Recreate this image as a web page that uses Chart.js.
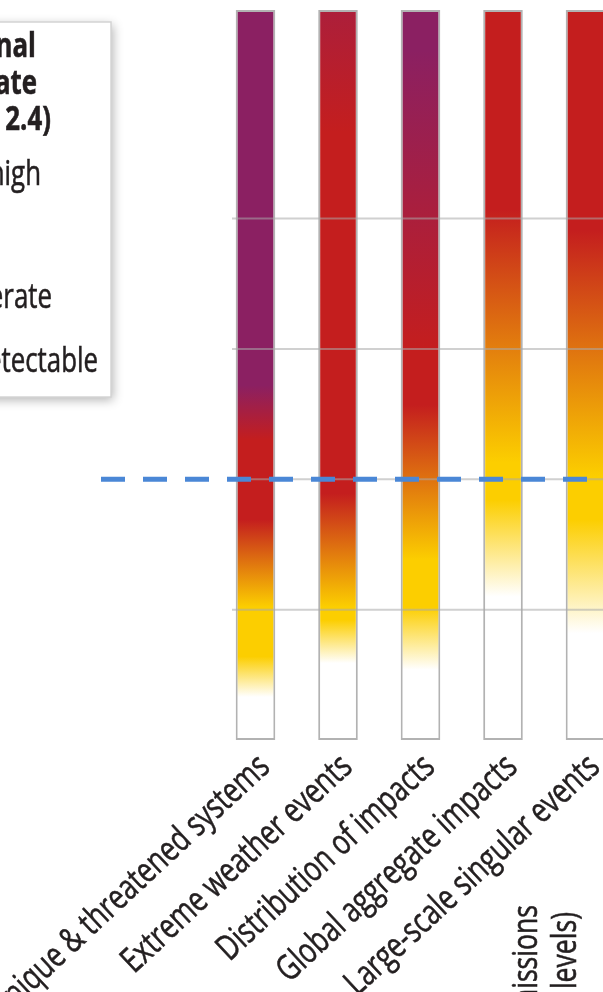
<!DOCTYPE html>
<html>
<head>
<meta charset="utf-8">
<title>Burning embers</title>
<script src="https://cdn.jsdelivr.net/npm/chart.js@4.4.1/dist/chart.umd.min.js"></script>
<style>
  html, body { margin: 0; padding: 0; background: #fff; overflow: hidden; }
  #wrap { width: 640px; height: 992px; }
</style>
</head>
<body>
<div id="wrap"><canvas id="embers" width="640" height="992"></canvas></div>
<script>
/* ── Data ── */
const categories = [
  'Unique & threatened systems',
  'Extreme weather events',
  'Distribution of impacts',
  'Global aggregate impacts',
  'Large-scale singular events',
];
const emberBase = [0, 0, 0, 0, 0];          // °C, bottom of each ember
const emberTop  = [5.6, 5.6, 5.6, 5.6, 5.6]; // °C, top of each ember
const gridTemps = [1, 2, 3, 4];
const referenceTemp = 2;                     // dashed level

// risk transitions along each ember: [°C, risk level]
const uniqueStops       = [[0.33, 'undetectable'], [0.64, 'moderate'], [1.02, 'moderate'], [1.69, 'high'], [2.30, 'high'], [2.72, 'veryHigh']];
const extremeStops      = [[0.59, 'undetectable'], [0.92, 'moderate'], [1.02, 'moderate'], [1.89, 'high'], [4.66, 'high'], [6.90, 'veryHigh']];
const distributionStops = [[0.54, 'undetectable'], [1.02, 'moderate'], [1.38, 'moderate'], [2.57, 'high'], [3.00, 'high'], [5.29, 'veryHigh']];
const aggregateStops    = [[1.10, 'undetectable'], [1.84, 'moderate'], [2.13, 'moderate'], [4.07, 'high']];
const singularStops     = [[0.82, 'undetectable'], [1.69, 'moderate'], [2.02, 'moderate'], [3.91, 'high']];
const emberStops = [uniqueStops, extremeStops, distributionStops, aggregateStops, singularStops];

const legendTitle  = ['Level of additional', 'risk due to climate', 'change (see Box 2.4)'];
const legendLevels = ['Very high', 'High', 'Moderate', 'Undetectable'];
const axisTitle    = ['Change in annual GHG emissions', 'in 2050 (% relative to 2010 levels)'];

/* ── Styles ── */
const riskColors = {
  undetectable: '#ffffff',
  moderate:     '#fcce00',
  high:         '#c41e1e',
  veryHigh:     '#8b2062',
};
const gradientTop = 7;
const FONT = "'Open Sans', 'Noto Sans', sans-serif";
const INK = '#231f20';
const SQUEEZE = 0.76;   // condensed face look

function emberGradient(context) {
  const chart = context.chart;
  if (!chart.chartArea) return null;
  const y = chart.scales.y;
  const g = chart.ctx.createLinearGradient(0, y.getPixelForValue(0), 0, y.getPixelForValue(gradientTop));
  emberStops[context.dataIndex].forEach(([t, level]) => g.addColorStop(t / gradientTop, riskColors[level]));
  return g;
}

function squeezed(ctx, text, x, y, rot) {
  ctx.save();
  ctx.translate(x, y);
  if (rot) ctx.rotate(rot);
  ctx.scale(SQUEEZE, 1);
  ctx.fillText(text, 0, 0);
  ctx.strokeText(text, 0, 0);
  ctx.restore();
}

/* ── Overlay: grid, dashed level, labels, legend ── */
const overlayPlugin = {
  id: 'emberOverlay',
  afterDatasetsDraw(chart) {
    const { ctx, scales: { x, y } } = chart;
    ctx.save();

    ctx.strokeStyle = 'rgba(170,170,170,0.55)';
    ctx.lineWidth = 2;
    gridTemps.forEach(t => {
      const py = y.getPixelForValue(t);
      ctx.beginPath(); ctx.moveTo(232, py); ctx.lineTo(chart.width, py); ctx.stroke();
    });

    ctx.strokeStyle = '#4a87d6';
    ctx.lineWidth = 5;
    ctx.setLineDash([24, 18]);
    const ry = y.getPixelForValue(referenceTemp);
    ctx.beginPath(); ctx.moveTo(101, ry); ctx.lineTo(588, ry); ctx.stroke();
    ctx.setLineDash([]);

    // category labels
    ctx.fillStyle = INK;
    ctx.strokeStyle = INK;
    ctx.lineWidth = 0.6;
    ctx.font = `35px ${FONT}`;
    ctx.textAlign = 'right';
    ctx.textBaseline = 'alphabetic';
    categories.forEach((label, i) => {
      squeezed(ctx, label, x.getPixelForValue(i) + 16, y.bottom + 29, -43 * Math.PI / 180);
    });

    // cut-off axis title of the next panel
    squeezed(ctx, axisTitle[0], 537, 905, -Math.PI / 2);
    squeezed(ctx, axisTitle[1], 576, 912, -Math.PI / 2);

    // legend box
    ctx.save();
    ctx.shadowColor = 'rgba(0,0,0,0.3)';
    ctx.shadowBlur = 10;
    ctx.shadowOffsetX = 2;
    ctx.shadowOffsetY = 3;
    ctx.fillStyle = '#fff';
    ctx.fillRect(-20, 22, 131, 375);
    ctx.restore();
    ctx.save();
    ctx.strokeStyle = '#d4d4d4';
    ctx.lineWidth = 1.5;
    ctx.strokeRect(-20, 22, 131, 375);
    ctx.restore();

    ctx.font = `bold 34px ${FONT}`;
    [[36, 57], [37, 94], [51, 130]].forEach(([rx, by], i) => squeezed(ctx, legendTitle[i], rx, by));

    ctx.font = `34px ${FONT}`;
    const veryW = ctx.measureText('Very ').width * SQUEEZE;
    [[41, 185], [41 - veryW, 246], [52, 308], [98, 372]].forEach(([rx, by], i) => squeezed(ctx, legendLevels[i], rx, by));

    ctx.restore();
  },
};

new Chart(document.getElementById('embers'), {
  type: 'bar',
  data: {
    labels: categories,
    datasets: [{
      data: categories.map((_, i) => [emberBase[i], emberTop[i]]),
      backgroundColor: emberGradient,
      borderColor: 'rgba(165,165,165,0.85)',
      borderWidth: 2,
      borderSkipped: false,
      barPercentage: 0.48,
      categoryPercentage: 1,
    }],
  },
  options: {
    responsive: false,
    devicePixelRatio: 1,
    animation: false,
    layout: { padding: { left: 214.25, right: 13.25, top: 10, bottom: 252 } },
    plugins: { legend: { display: false }, tooltip: { enabled: false } },
    scales: {
      x: { display: false },
      y: { display: false, min: 0, max: 5.6 },
    },
  },
  plugins: [overlayPlugin],
});
</script>
</body>
</html>
